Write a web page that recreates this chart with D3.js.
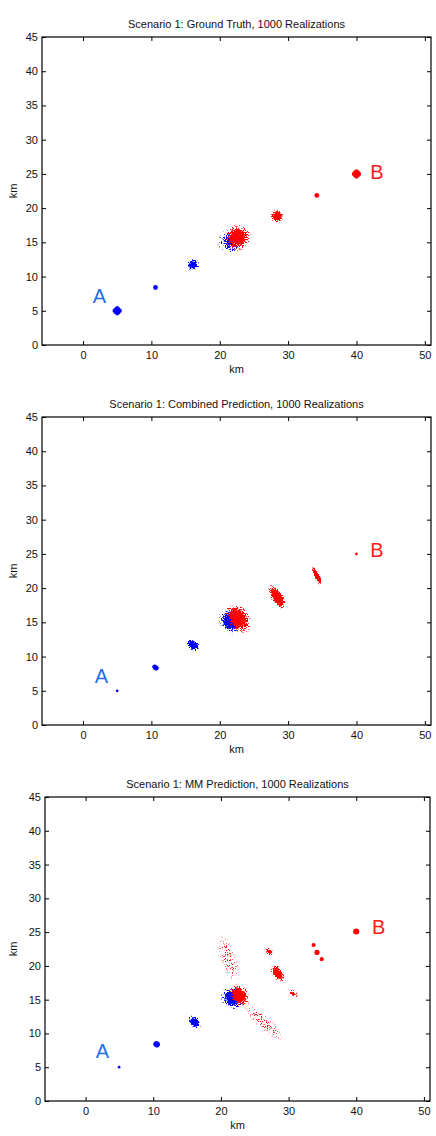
<!DOCTYPE html>
<html><head><meta charset="utf-8">
<script src="https://cdn.jsdelivr.net/npm/d3@7"></script>
<style>
body{margin:0;background:#fff;}
text{font-family:"Liberation Sans",Arial,sans-serif;}
</style></head>
<body><svg id="chart" width="436" height="1136"></svg>
<script>
const titles = [
  "Scenario 1: Ground Truth, 1000 Realizations",
  "Scenario 1: Combined Prediction, 1000 Realizations",
  "Scenario 1: MM Prediction, 1000 Realizations"
];
const xTicks = [0, 10, 20, 30, 40, 50];
const yTicks = [0, 5, 10, 15, 20, 25, 30, 35, 40, 45];
const xDomain = [-6, 50.9];
const yDomain = [0, 45];
const axisLabel = "km";

// clusters: [x km, y km, spread-x km, spread-y km, tilt deg, solid core fraction]
const truthBlue = [
  [10.6, 8.4, 0.35, 0.35, 0, 1],
  [16.1, 11.7, 1.0, 1.0, 0, 0.5],
  [21.6, 15.1, 2.2, 2.1, 0, 0.2]
];
const truthRed = [
  [22.6, 15.7, 2.2, 2.1, 0, 0.5],
  [28.4, 18.8, 1.05, 1.05, 0, 0.55],
  [34.2, 21.85, 0.35, 0.35, 0, 1]
];
const truthBlueStar = [[5.0, 5.0]];
const truthRedStar = [[40.0, 25.0]];

const combBlue = [
  [5.0, 5.0, 0.2, 0.2, 0, 1],
  [10.6, 8.4, 0.5, 0.38, -35, 1],
  [16.1, 11.7, 1.25, 0.85, -40, 0.55],
  [21.6, 15.2, 2.1, 1.8, -50, 0.5]
];
const combRed = [
  [22.7, 15.6, 2.6, 1.8, -55, 0.55],
  [28.4, 18.7, 2.2, 1.0, -60, 0.6],
  [34.2, 21.8, 1.7, 0.48, -65, 0.6],
  [40.0, 25.0, 0.2, 0.2, 0, 1]
];

const mmBlue = [
  [4.95, 5.0, 0.2, 0.2, 0, 1],
  [10.5, 8.4, 0.5, 0.45, -30, 1],
  [16.1, 11.7, 1.25, 0.85, -40, 0.55],
  [21.7, 15.2, 2.0, 1.7, -40, 0.5]
];
const mmRed = [
  [21.1, 21.1, 4.4, 1.4, -72, 0],
  [26.3, 11.7, 4.6, 1.2, -43, 0],
  [22.7, 15.6, 1.9, 1.55, -55, 0.55],
  [27.1, 22.1, 0.95, 0.65, -60, 0.25],
  [28.4, 18.9, 1.8, 0.9, -55, 0.5],
  [30.6, 15.9, 1.05, 0.6, -35, 0.25],
  [33.7, 23.1, 0.3, 0.3, 0, 1],
  [34.2, 22.0, 0.38, 0.38, 0, 1],
  [34.9, 21.0, 0.3, 0.3, 0, 1],
  [40.0, 25.1, 0.45, 0.45, 0, 1]
];

const labelA = [[2.4, 7.1], [2.7, 7.2], [2.5, 7.4]];
const labelB = [[43.0, 25.3], [43.0, 25.6], [43.3, 25.8]];

const panelsData = [
  {blue: truthBlue, red: truthRed, blueStar: truthBlueStar, redStar: truthRedStar},
  {blue: combBlue, red: combRed, blueStar: [], redStar: []},
  {blue: mmBlue, red: mmRed, blueStar: [], redStar: []}
];

// layout (pixels)
const frames = [
  {top: 37, bottom: 345, left: 42, right: 431},
  {top: 417, bottom: 725, left: 42, right: 431},
  {top: 797, bottom: 1101, left: 45, right: 430}
];
const colors = {blue: "#0000ff", red: "#ff0000", labelA: "#1f6fe8", labelB: "#ff1a1a"};

const svg = d3.select("#chart");
const defs = svg.append("defs");

function grainFilter(id, color, seed) {
  const f = defs.append("filter").attr("id", id)
    .attr("filterUnits", "userSpaceOnUse")
    .attr("x", 0).attr("y", 0).attr("width", 436).attr("height", 1136)
    .attr("color-interpolation-filters", "sRGB");
  f.append("feTurbulence").attr("type", "fractalNoise").attr("baseFrequency", 0.83)
    .attr("numOctaves", 3).attr("seed", seed).attr("result", "noise");
  f.append("feColorMatrix").attr("in", "noise").attr("type", "matrix")
    .attr("values", "0 0 0 0 0  0 0 0 0 0  0 0 0 0 0  3 0 0 0 -1")
    .attr("result", "na0");
  const sc = f.append("feComponentTransfer").attr("in", "na0").attr("result", "na");
  sc.append("feFuncA").attr("type", "linear").attr("slope", 0.94).attr("intercept", 0);
  f.append("feComposite").attr("in", "SourceAlpha").attr("in2", "na")
    .attr("operator", "arithmetic").attr("k1", 0).attr("k2", 1).attr("k3", 1).attr("k4", -0.97)
    .attr("result", "m");
  const ct = f.append("feComponentTransfer").attr("in", "m").attr("result", "m2");
  ct.append("feFuncA").attr("type", "linear").attr("slope", 4).attr("intercept", 0);
  f.append("feFlood").attr("flood-color", color).attr("result", "c");
  f.append("feComposite").attr("in", "c").attr("in2", "m2").attr("operator", "in");
}
grainFilter("grainblue", colors.blue, 3);
grainFilter("grainred", colors.red, 11);

function coreGrad(id, c) {
  const g = defs.append("radialGradient").attr("id", id);
  [[0, 1], [0.7, 0.95], [1, 0]].forEach(s => g.append("stop").attr("offset", s[0])
    .attr("stop-color", c).attr("stop-opacity", s[1]));
}
coreGrad("coreblue", colors.blue);
coreGrad("corered", colors.red);

let gradCount = 0;
function densityGrad(core) {
  const id = "dg" + (gradCount++);
  const g = defs.append("radialGradient").attr("id", id);
  const r = 1 - core;
  const stops = core > 0
    ? [[0, 1], [core, 1], [core + r * 0.25, 0.6], [core + r * 0.5, 0.32], [core + r * 0.75, 0.15], [1, 0]]
    : [[0, 0.34], [0.4, 0.27], [0.7, 0.14], [1, 0]];
  stops.forEach(s => g.append("stop").attr("offset", s[0])
    .attr("stop-color", "#000").attr("stop-opacity", s[1]));
  return id;
}

frames.forEach((f, i) => {
  const x = d3.scaleLinear().domain(xDomain).range([f.left, f.right]);
  const y = d3.scaleLinear().domain(yDomain).range([f.bottom, f.top]);
  const kx = x(1) - x(0), ky = y(0) - y(1);
  const g = svg.append("g");
  const pd = panelsData[i];

  const clip = defs.append("clipPath").attr("id", "clip" + i);
  clip.append("rect").attr("x", f.left).attr("y", f.top)
    .attr("width", f.right - f.left).attr("height", f.bottom - f.top);
  const plot = g.append("g").attr("clip-path", `url(#clip${i})`);

  function drawSeries(data, stars, cname) {
    const layer = plot.append("g");
    const grainy = layer.append("g").attr("filter", `url(#grain${cname})`);
    const solid = layer.append("g").attr("fill", colors[cname]);
    data.forEach(d => {
      const [cx, cy, rx, ry, tilt, core] = d;
      const tr = `translate(${x(cx)},${y(cy)}) rotate(${-tilt})`;
      if (core < 1) {
        grainy.append("ellipse").attr("transform", tr)
          .attr("rx", rx * kx).attr("ry", ry * ky)
          .attr("fill", `url(#${densityGrad(core)})`);
        if (core > 0.3) {
          solid.append("ellipse").attr("transform", tr)
            .attr("rx", rx * core * 1.05 * kx).attr("ry", ry * core * 1.05 * ky)
            .attr("fill", `url(#core${cname})`);
        }
      } else {
        solid.append("ellipse").attr("transform", tr)
          .attr("rx", Math.max(rx * kx, 1.2)).attr("ry", Math.max(ry * ky, 1.2));
      }
    });
    stars.forEach(d => {
      const sg = solid.append("g").attr("transform", `translate(${x(d[0])},${y(d[1])})`);
      sg.append("circle").attr("r", 3);
      sg.append("path").attr("d", d3.symbol().type(d3.symbolCross).size(45)());
      sg.append("path").attr("d", d3.symbol().type(d3.symbolCross).size(36)())
        .attr("transform", "rotate(45)");
    });
  }
  drawSeries(pd.blue, pd.blueStar, "blue");
  drawSeries(pd.red, pd.redStar, "red");

  plot.append("text").attr("x", x(labelA[i][0])).attr("y", y(labelA[i][1]))
    .attr("text-anchor", "middle").attr("dominant-baseline", "central")
    .attr("font-size", 20).attr("fill", colors.labelA).text("A");
  plot.append("text").attr("x", x(labelB[i][0])).attr("y", y(labelB[i][1]))
    .attr("text-anchor", "middle").attr("dominant-baseline", "central")
    .attr("font-size", 20).attr("fill", colors.labelB).text("B");

  const style = sel => {
    sel.select(".domain").remove();
    sel.selectAll("line").attr("stroke", "#000");
    sel.selectAll("text").attr("font-size", 11).attr("fill", "#111")
      .style("font-family", '"Liberation Sans", Arial, sans-serif');
  };
  g.append("g").attr("transform", `translate(0,${f.bottom})`)
    .call(d3.axisBottom(x).tickValues(xTicks).tickSize(-4).tickPadding(6)).call(style);
  g.append("g").attr("transform", `translate(0,${f.top})`)
    .call(d3.axisTop(x).tickValues(xTicks).tickSize(-4).tickFormat("")).call(style);
  g.append("g").attr("transform", `translate(${f.left},0)`)
    .call(d3.axisLeft(y).tickValues(yTicks).tickSize(-4).tickPadding(4)).call(style);
  g.append("g").attr("transform", `translate(${f.right},0)`)
    .call(d3.axisRight(y).tickValues(yTicks).tickSize(-4).tickFormat("")).call(style);

  g.append("rect").attr("x", f.left).attr("y", f.top)
    .attr("width", f.right - f.left).attr("height", f.bottom - f.top)
    .attr("fill", "none").attr("stroke", "#000").attr("stroke-width", 1.2);

  g.append("text").attr("x", (f.left + f.right) / 2).attr("y", f.top - 9)
    .attr("text-anchor", "middle").attr("font-size", 11).attr("fill", "#111").text(titles[i]);
  g.append("text").attr("x", (f.left + f.right) / 2).attr("y", f.bottom + 28)
    .attr("text-anchor", "middle").attr("font-size", 11).attr("fill", "#111").text(axisLabel);
  g.append("text").attr("transform", `translate(17,${(f.top + f.bottom) / 2}) rotate(-90)`)
    .attr("text-anchor", "middle").attr("font-size", 11).attr("fill", "#111").text(axisLabel);
});
</script></body></html>
